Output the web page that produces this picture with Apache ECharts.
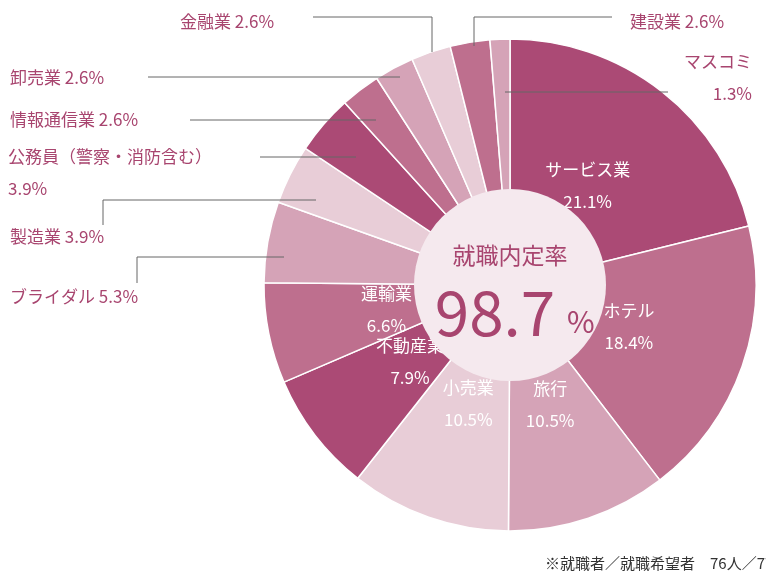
<!DOCTYPE html>
<html><head><meta charset="utf-8">
<script src="https://cdn.jsdelivr.net/npm/echarts@6/dist/echarts.min.js"></script>
<style>body{margin:0;background:#fff}#c{width:766px;height:579px}</style>
</head><body><div id="c"></div>
<script>
// 業種別 就職先
const names = ['サービス業','ホテル','旅行','小売業','不動産業','運輸業','ブライダル','製造業','公務員（警察・消防含む）','情報通信業','卸売業','金融業','建設業','マスコミ']
const values = [21.1,18.4,10.5,10.5,7.9,6.6,5.3,3.9,3.9,2.6,2.6,2.6,2.6,1.3]
const colors = ['#ab4a75','#be6f8e','#d5a3b7','#e8cdd7','#ab4a75','#be6f8e','#d5a3b7','#e8cdd7','#ab4a75','#be6f8e','#d5a3b7','#e8cdd7','#be6f8e','#d5a3b7']
const insideCount = 6
const txtColor = '#a8456f', lineColor = '#666'
const font = '"Noto Sans CJK JP", sans-serif'

// 外側ラベルと引き出し線
const outside = [
  {t:'金融業 2.6%', x:180, y:22, line:[[313,17],[432,17],[432,52]]},
  {t:'建設業 2.6%', x:630, y:22, line:[[612,17],[474,17],[474,46]]},
  {t:'マスコミ\n1.3%', x:752, y:78, align:'right', line:[[668,92],[505,92]]},
  {t:'卸売業 2.6%', x:10, y:78, line:[[148,77],[400,77]]},
  {t:'情報通信業 2.6%', x:10, y:120, line:[[190,120],[376,120]]},
  {t:'公務員（警察・消防含む）\n3.9%', x:8, y:173, line:[[260,157],[356,157]]},
  {t:'製造業 3.9%', x:10, y:237, line:[[103,225],[103,200],[316,200]]},
  {t:'ブライダル 5.3%', x:10, y:297, line:[[137,283],[137,257],[284,257]]}
]

let graphics = [{type:'circle', shape:{cx:510, cy:285, r:96}, style:{fill:'#f5e9ee'}, z:10}]
outside.forEach(o => {
  graphics.push({type:'polyline', shape:{points:o.line}, style:{stroke:lineColor, lineWidth:1, fill:null}, z:10})
  graphics.push({type:'text', x:o.x, y:o.y, style:{text:o.t, fill:txtColor, font:'17px ' + font, align:o.align || 'left', verticalAlign:'middle', lineHeight:32}, z:10})
})
graphics.push({type:'text', x:510, y:255, style:{text:'就職内定率', fill:txtColor, font:'23px ' + font, align:'center', verticalAlign:'middle'}, z:11})
graphics.push({type:'text', x:495, y:312, style:{text:'98.7', fill:txtColor, font:'62px ' + font, align:'center', verticalAlign:'middle'}, z:11})
graphics.push({type:'text', x:567, y:322, style:{text:'%', fill:txtColor, font:'30px ' + font, align:'left', verticalAlign:'middle'}, z:11})
graphics.push({type:'text', x:545, y:563, style:{text:'※就職者／就職希望者　76人／77人', fill:'#333', font:'15px ' + font, align:'left', verticalAlign:'middle'}, z:11})

let data = names.map((n, i) => ({
  name: n, value: values[i], itemStyle: {color: colors[i]},
  label: {show: i < insideCount}
}))

let chart = echarts.init(document.getElementById('c'))
chart.setOption({
  animation: false,
  series: [{
    type: 'pie', center: [510, 285], radius: [0, 246], startAngle: 90, clockwise: true,
    itemStyle: {borderColor: '#fff', borderWidth: 1.5},
    label: {position: 'inside', color: '#fff', fontSize: 17, fontFamily: font, lineHeight: 32,
      formatter: p => p.name + '\n' + p.value.toFixed(1) + '%'},
    labelLayout: p => {
      let r = 178, a = (90 - (p.dataIndex, 0)) // placeholder
      return {}
    },
    labelLine: {show: false},
    data: data
  }],
  graphic: graphics
})
</script>
</body></html>
